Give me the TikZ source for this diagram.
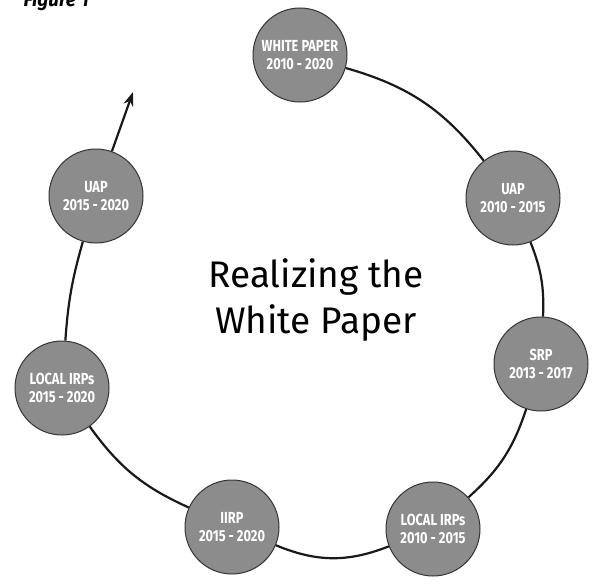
\documentclass[tikz,border=0pt]{standalone}
\usepackage{fontspec}
\setmainfont{Fira Sans}
\newfontfamily\labfont[FakeStretch=0.8]{Fira Sans}
\usetikzlibrary{arrows.meta}
\begin{document}
\begin{tikzpicture}[x=1pt,y=-1pt,
  phase/.style={circle, minimum size=94pt, inner sep=0pt, fill=black!45, draw=black!80, line width=1pt,
    text=white, align=center, font=\labfont\bfseries\fontsize{16}{18}\selectfont},
  link/.style={line width=2.2pt, draw=black!90},
]
\useasboundingbox (0,0) rectangle (601,583);
\node[anchor=base west, font=\bfseries\itshape\fontsize{19}{22}\selectfont] (fig) at (20,7) {Figure 1};
\node[phase] (wp) at (300,55) {WHITE PAPER\\2010 - 2020};
\node[phase] (uapa) at (513,198) {UAP\\2010 - 2015};
\node[phase] (srp) at (541,364) {SRP\\2013 - 2017};
\node[phase] (lirpa) at (433,529) {LOCAL IRPs\\2010 - 2015};
\node[phase] (iirp) at (232,527) {IIRP\\2015 - 2020};
\node[phase] (lirpb) at (62,388) {LOCAL IRPs\\2015 - 2020};
\node[phase] (uapb) at (96,196) {UAP\\2015 - 2020};
\node[align=center, font=\fontsize{37}{46}\selectfont] (title) at (316,300) {Realizing the\\White Paper};
\coordinate (tip) at (133,92);
\draw[link] (wp) to[bend left=18] (uapa);
\draw[link] (uapa) to[bend left=12] (srp);
\draw[link] (srp) to[bend left=15] (lirpa);
\draw[link] (lirpa) to[bend left=22] (iirp);
\draw[link] (iirp) to[bend left=15] (lirpb);
\draw[link] (lirpb) to[bend left=6] (uapb);
\draw[link, -{Stealth[length=14pt,width=10pt]}] (uapb) -- (tip);
\end{tikzpicture}
\end{document}
